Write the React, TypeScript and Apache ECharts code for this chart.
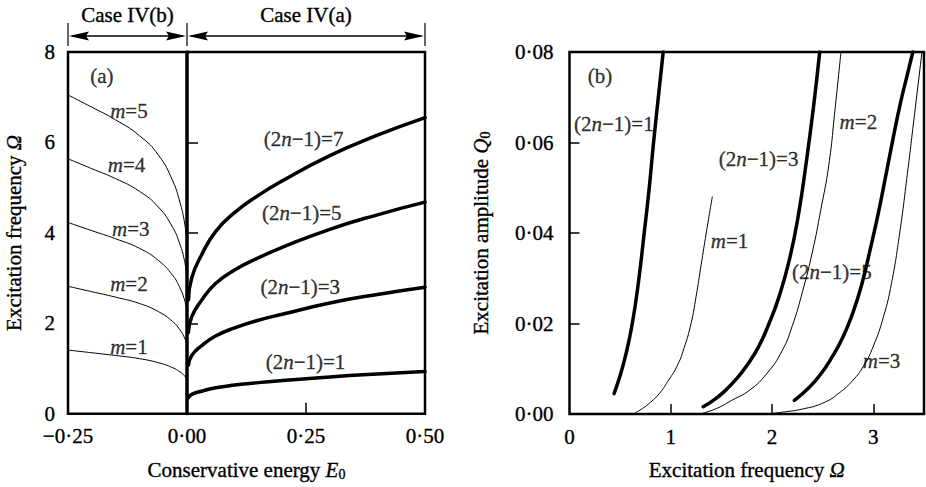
import React, { useEffect, useRef } from 'react';
import * as echarts from 'echarts';

// ---- Panel (a): excitation frequency vs conservative energy ----
const negEnergy = [-0.25, -0.2, -0.15, -0.1, -0.06, -0.03, -0.015, -0.006, -0.002];
const omegaM1 = [1.41, 1.35, 1.29, 1.22, 1.13, 1.02, 0.93, 0.85, 0.79];
const omegaM2 = [2.82, 2.70, 2.58, 2.44, 2.26, 2.04, 1.86, 1.70, 1.58];
const omegaM3 = [4.23, 4.05, 3.87, 3.66, 3.39, 3.06, 2.79, 2.55, 2.37];
const omegaM4 = [5.64, 5.42, 5.20, 4.92, 4.57, 4.12, 3.75, 3.42, 3.16];
const omegaM5 = [7.05, 6.78, 6.50, 6.15, 5.72, 5.15, 4.68, 4.28, 3.95];

const posEnergy = [0.003, 0.01, 0.03, 0.06, 0.1, 0.15, 0.2, 0.3, 0.4, 0.5];
const omegaK1 = [0.36, 0.43, 0.50, 0.575, 0.635, 0.69, 0.735, 0.815, 0.88, 0.935];
const omegaK3 = [1.08, 1.29, 1.50, 1.72, 1.90, 2.07, 2.20, 2.45, 2.64, 2.80];
const omegaK5 = [1.80, 2.15, 2.50, 2.88, 3.18, 3.45, 3.68, 4.08, 4.40, 4.68];
const omegaK7 = [2.52, 3.01, 3.50, 4.03, 4.45, 4.83, 5.15, 5.71, 6.16, 6.55];

const separatrixEnergy = [0, 0];
const separatrixOmega = [0, 8];

// ---- Panel (b): excitation amplitude vs excitation frequency ----
const k1Freq = [0.44, 0.50, 0.56, 0.62, 0.68, 0.735, 0.785, 0.83, 0.877, 0.925];
const k1Amp = [0.0045, 0.0085, 0.0135, 0.0200, 0.0290, 0.0395, 0.0495, 0.0600, 0.0700, 0.0800];
const m1Freq = [0.65, 0.72, 0.80, 0.89, 0.97, 1.06, 1.13, 1.20, 1.25, 1.30, 1.35, 1.41];
const m1Amp = [0.0003, 0.0012, 0.0026, 0.0046, 0.0072, 0.0105, 0.0145, 0.0200, 0.0260, 0.0330, 0.0400, 0.0480];
const k3Freq = [1.32, 1.42, 1.53, 1.65, 1.76, 1.87, 1.97, 2.07, 2.17, 2.26, 2.34, 2.41, 2.47];
const k3Amp = [0.0016, 0.0030, 0.0050, 0.0078, 0.0110, 0.0150, 0.0200, 0.0260, 0.0340, 0.0440, 0.0560, 0.0680, 0.0800];
const m2Freq = [1.32, 1.45, 1.60, 1.78, 1.95, 2.10, 2.20, 2.30, 2.40, 2.48, 2.56, 2.62, 2.68];
const m2Amp = [0.0002, 0.0012, 0.0030, 0.0053, 0.0090, 0.0140, 0.0195, 0.0270, 0.0360, 0.0450, 0.0550, 0.0670, 0.0800];
const k5Freq = [2.22, 2.35, 2.47, 2.59, 2.70, 2.80, 2.89, 2.97, 3.05, 3.13, 3.20, 3.27, 3.33, 3.39];
const k5Amp = [0.0030, 0.0055, 0.0085, 0.0125, 0.0170, 0.0225, 0.0290, 0.0365, 0.0445, 0.0535, 0.0615, 0.0690, 0.0745, 0.0800];
const m3Freq = [1.95, 2.10, 2.30, 2.50, 2.66, 2.80, 2.90, 3.00, 3.10, 3.18, 3.26, 3.33, 3.40, 3.48];
const m3Amp = [0.0, 0.0004, 0.0011, 0.0024, 0.0046, 0.0075, 0.0105, 0.0150, 0.0215, 0.0290, 0.0400, 0.0520, 0.0650, 0.0800];

// Tick positions
const energyTicks = [0.25];
const omegaTicks = [2, 4, 6];
const freqTicks = [1, 2, 3];
const freqLabels = [0, 1, 2, 3];
const ampTicks = [0.02, 0.04, 0.06];

// Header spans above panel (a)
const caseSpans = [
  { label: 'Case IV(b)', from: -0.25, to: 0 },
  { label: 'Case IV(a)', from: 0, to: 0.5 },
];

// Curve annotations, anchored in data coordinates
const labelsA = [
  { text: '{r|(a)}', x: -0.179, y: 7.47 },
  { text: '{i|m}{r|=5}', x: -0.122, y: 6.70 },
  { text: '{i|m}{r|=4}', x: -0.127, y: 5.50 },
  { text: '{i|m}{r|=3}', x: -0.118, y: 4.09 },
  { text: '{i|m}{r|=2}', x: -0.122, y: 2.87 },
  { text: '{i|m}{r|=1}', x: -0.122, y: 1.48 },
  { text: '{r|(2}{i|n}{r|\u22121)=7}', x: 0.245, y: 6.08 },
  { text: '{r|(2}{i|n}{r|\u22121)=5}', x: 0.241, y: 4.44 },
  { text: '{r|(2}{i|n}{r|\u22121)=3}', x: 0.238, y: 2.81 },
  { text: '{r|(2}{i|n}{r|\u22121)=1}', x: 0.249, y: 1.15 },
];
const labelsB = [
  { text: '{r|(b)}', x: 0.30, y: 0.0747 },
  { text: '{r|(2}{i|n}{r|\u22121)=1}', x: 0.438, y: 0.0641 },
  { text: '{r|(2}{i|n}{r|\u22121)=3}', x: 1.867, y: 0.0564 },
  { text: '{i|m}{r|=2}', x: 2.852, y: 0.0645 },
  { text: '{i|m}{r|=1}', x: 1.58, y: 0.0382 },
  { text: '{r|(2}{i|n}{r|\u22121)=5}', x: 2.59, y: 0.0314 },
  { text: '{i|m}{r|=3}', x: 3.08, y: 0.0117 },
];

const FONT = '"Liberation Serif", "Times New Roman", serif';
const FS = 21;
const INK = '#000';
// a hairline outline gives the serif glyphs a heavier, printed look
const heavy = { textBorderColor: INK, textBorderWidth: 0.35 };

const rich = {
  r: { fontFamily: FONT, fontSize: FS, color: INK, lineHeight: 24, ...heavy },
  i: { fontFamily: FONT, fontSize: FS, color: INK, fontStyle: 'italic', lineHeight: 24, ...heavy },
  s: { fontFamily: FONT, fontSize: 14, color: INK, lineHeight: 6, verticalAlign: 'bottom', ...heavy },
};

const zip = (xs: number[], ys: number[]) => xs.map((x, i) => [x, ys[i]]);
const dotted = (s: string) => s.replace('-', '\u2212').replace('.', '\u00b7');

function curve(grid: number, xs: number[], ys: number[], width: number) {
  return {
    type: 'line',
    xAxisIndex: grid,
    yAxisIndex: grid,
    data: zip(xs, ys),
    showSymbol: false,
    symbol: 'none',
    smooth: 0.5,
    silent: true,
    lineStyle: { color: INK, width, cap: 'round', join: 'round' },
    z: 3,
  };
}

function labelSeries(grid: number, items: { text: string; x: number; y: number }[]) {
  return {
    type: 'scatter',
    xAxisIndex: grid,
    yAxisIndex: grid,
    symbolSize: 0,
    silent: true,
    z: 5,
    data: items.map((it) => ({ value: [it.x, it.y], label: { formatter: it.text } })),
    label: { show: true, position: 'inside', rich },
  };
}

const tickStyle = { color: INK, width: 1.5 };
const labelFont = { fontFamily: FONT, fontSize: FS, color: INK, ...heavy };

export default function App() {
  const ref = useRef<HTMLDivElement>(null);

  useEffect(() => {
    if (!ref.current) return;
    const chart = echarts.init(ref.current, undefined, { renderer: 'svg' });

    const option: any = {
      animation: false,
      backgroundColor: '#fff',
      grid: [
        { left: 68, top: 52, width: 357, height: 362, show: true, borderColor: INK, borderWidth: 2.5, backgroundColor: 'transparent' },
        { left: 569.5, top: 52, width: 354.5, height: 362, show: true, borderColor: INK, borderWidth: 2.5, backgroundColor: 'transparent' },
      ],
      xAxis: [
        {
          type: 'value', gridIndex: 0, min: -0.25, max: 0.5, interval: 0.25,
          axisLine: { show: false }, splitLine: { show: false },
          axisTick: { show: true, inside: true, length: 11, customValues: energyTicks, lineStyle: tickStyle },
          axisLabel: { ...labelFont, margin: 12, formatter: (v: number) => dotted(v.toFixed(2)) },
          name: '{r|Conservative energy }{i|E}{s|0}',
          nameLocation: 'middle', nameGap: 44,
          nameTextStyle: { ...labelFont, rich },
        },
        {
          type: 'value', gridIndex: 1, min: 0, max: 3.5, interval: 1,
          axisLine: { show: false }, splitLine: { show: false },
          axisTick: { show: true, inside: true, length: 10, customValues: freqTicks, lineStyle: tickStyle },
          axisLabel: { ...labelFont, margin: 12, customValues: freqLabels, formatter: (v: number) => (Number.isInteger(v) ? String(v) : '') },
          name: '{r|Excitation frequency }{i|\u03a9}',
          nameLocation: 'middle', nameGap: 44,
          nameTextStyle: { ...labelFont, rich },
        },
      ],
      yAxis: [
        {
          type: 'value', gridIndex: 0, min: 0, max: 8, interval: 2,
          axisLine: { show: false }, splitLine: { show: false },
          axisTick: { show: true, inside: true, length: 11, customValues: omegaTicks, lineStyle: tickStyle },
          axisLabel: { ...labelFont, margin: 13 },
          name: '{r|Excitation frequency }{i|\u03a9}',
          nameLocation: 'middle', nameGap: 42,
          nameTextStyle: { ...labelFont, rich },
        },
        {
          type: 'value', gridIndex: 1, min: 0, max: 0.08, interval: 0.02,
          axisLine: { show: false }, splitLine: { show: false },
          axisTick: { show: true, inside: true, length: 10, customValues: ampTicks, lineStyle: tickStyle },
          axisLabel: { ...labelFont, margin: 16, formatter: (v: number) => dotted(v.toFixed(2)) },
          name: '{r|Excitation amplitude }{i|Q}{s|0}',
          nameLocation: 'middle', nameGap: 77,
          nameTextStyle: { ...labelFont, rich },
        },
      ],
      series: [
        curve(0, negEnergy, omegaM1, 1),
        curve(0, negEnergy, omegaM2, 1),
        curve(0, negEnergy, omegaM3, 1),
        curve(0, negEnergy, omegaM4, 1),
        curve(0, negEnergy, omegaM5, 1),
        curve(0, posEnergy, omegaK1, 3.5),
        curve(0, posEnergy, omegaK3, 3.5),
        curve(0, posEnergy, omegaK5, 3.5),
        curve(0, posEnergy, omegaK7, 3.5),
        { ...curve(0, separatrixEnergy, separatrixOmega, 3.5), smooth: false },
        labelSeries(0, labelsA),
        curve(1, k1Freq, k1Amp, 3.5),
        curve(1, m1Freq, m1Amp, 1),
        curve(1, k3Freq, k3Amp, 3.5),
        curve(1, m2Freq, m2Amp, 1),
        curve(1, k5Freq, k5Amp, 3.5),
        curve(1, m3Freq, m3Amp, 1),
        labelSeries(1, labelsB),
      ],
    };
    chart.setOption(option);

    // Header with double arrows spanning the two energy regimes
    const top = (chart.convertToPixel({ gridIndex: 0 }, [0, 8]) as number[])[1];
    const arrowY = top - 16;
    const elements: any[] = [];
    const bars = new Set<number>();
    caseSpans.forEach((span) => {
      const x0 = (chart.convertToPixel({ gridIndex: 0 }, [span.from, 8]) as number[])[0];
      const x1 = (chart.convertToPixel({ gridIndex: 0 }, [span.to, 8]) as number[])[0];
      bars.add(x0);
      bars.add(x1);
      elements.push({
        type: 'line',
        shape: { x1: x0 + 4, y1: arrowY, x2: x1 - 4, y2: arrowY },
        style: { stroke: INK, lineWidth: 1.5 },
      });
      elements.push({
        type: 'polygon',
        shape: { points: [[x0 + 1, arrowY], [x0 + 21, arrowY - 4.5], [x0 + 18, arrowY], [x0 + 21, arrowY + 4.5]] },
        style: { fill: INK },
      });
      elements.push({
        type: 'polygon',
        shape: { points: [[x1 - 1, arrowY], [x1 - 21, arrowY - 4.5], [x1 - 18, arrowY], [x1 - 21, arrowY + 4.5]] },
        style: { fill: INK },
      });
      elements.push({
        type: 'text',
        x: (x0 + x1) / 2,
        y: top - 37,
        style: { text: span.label, fontFamily: FONT, fontSize: FS, fill: INK, align: 'center', verticalAlign: 'middle', stroke: INK, lineWidth: 0.35 },
      });
    });
    bars.forEach((x) => {
      elements.push({
        type: 'line',
        shape: { x1: x, y1: top - 29, x2: x, y2: top - 6 },
        style: { stroke: INK, lineWidth: 1.2 },
      });
    });
    chart.setOption({ graphic: { elements } });

    return () => chart.dispose();
  }, []);

  return (
    <div
      ref={ref}
      style={{ position: 'fixed', left: 0, top: 0, width: 926, height: 487, background: '#fff' }}
    />
  );
}
